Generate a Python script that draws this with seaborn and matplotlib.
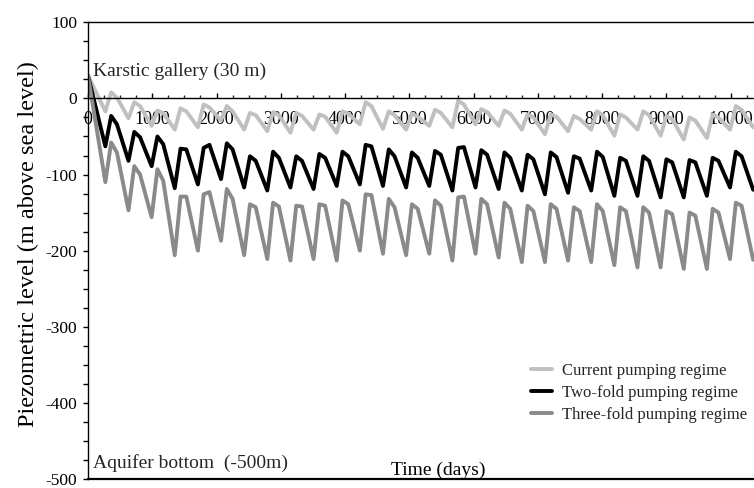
import matplotlib
matplotlib.use("Agg")
import matplotlib.pyplot as plt
import pandas as pd
import seaborn as sns
from matplotlib.ticker import MultipleLocator
from matplotlib.lines import Line2D

# ---- data ----
days = [0,
        270, 360, 450, 630, 720, 810, 990, 1080, 1170, 1350, 1440, 1530,
        1710, 1800, 1890, 2070, 2160, 2250, 2430, 2520, 2610, 2790, 2880, 2970,
        3150, 3240, 3330, 3510, 3600, 3690, 3870, 3960, 4050, 4230, 4320, 4410,
        4590, 4680, 4770, 4950, 5040, 5130, 5310, 5400, 5490, 5670, 5760, 5850,
        6030, 6120, 6210, 6390, 6480, 6570, 6750, 6840, 6930, 7110, 7200, 7290,
        7470, 7560, 7650, 7830, 7920, 8010, 8190, 8280, 8370, 8550, 8640, 8730,
        8910, 9000, 9090, 9270, 9360, 9450, 9630, 9720, 9810, 9990, 10080, 10170,
        10350]

current = [30,
           -17, 8, 1, -26, -5, -10, -36, -16, -19, -41, -13, -17,
           -38, -8, -12, -29, -10, -17, -41, -19, -22, -43, -18, -22,
           -45, -19, -23, -41, -21, -24, -45, -17, -20, -34, -5, -10,
           -40, -17, -22, -41, -20, -24, -36, -15, -19, -38, -3, -8,
           -34, -14, -18, -36, -16, -20, -41, -21, -25, -47, -21, -24,
           -43, -23, -27, -41, -17, -22, -49, -21, -25, -41, -17, -22,
           -49, -23, -27, -54, -25, -29, -52, -21, -25, -41, -10, -15,
           -38]

two_fold = [30,
            -63, -23, -34, -82, -44, -51, -89, -50, -60, -118, -66, -67,
            -113, -65, -61, -106, -59, -67, -117, -76, -82, -121, -70, -78,
            -117, -76, -82, -119, -73, -78, -115, -70, -76, -113, -61, -63,
            -115, -67, -76, -117, -71, -78, -115, -69, -74, -121, -65, -64,
            -117, -68, -74, -119, -71, -78, -121, -74, -80, -126, -71, -77,
            -124, -76, -79, -121, -70, -77, -128, -78, -82, -128, -76, -82,
            -130, -80, -84, -130, -81, -84, -128, -78, -82, -117, -70, -76,
            -120]

three_fold = [30,
              -110, -58, -71, -147, -89, -100, -156, -93, -108, -206, -129, -129,
              -200, -126, -123, -187, -119, -132, -206, -139, -143, -211, -137, -142,
              -213, -141, -142, -211, -139, -141, -213, -134, -139, -200, -126, -127,
              -204, -132, -143, -206, -139, -145, -204, -134, -141, -213, -130, -129,
              -204, -132, -139, -209, -137, -145, -215, -141, -148, -215, -139, -145,
              -213, -143, -148, -215, -139, -148, -219, -143, -148, -222, -143, -150,
              -222, -148, -152, -224, -150, -154, -224, -145, -150, -211, -137, -141,
              -212]

regimes = ["Current pumping regime", "Two-fold pumping regime", "Three-fold pumping regime"]
colors = ["#c0c0c0", "#000000", "#8a8a8a"]

df = pd.DataFrame({
    "day": days * 3,
    "level": current + two_fold + three_fold,
    "regime": [regimes[0]] * len(days) + [regimes[1]] * len(days) + [regimes[2]] * len(days),
})

# ---- style ----
sns.set_theme(style="ticks")
plt.rcParams["font.family"] = ["Liberation Serif", "DejaVu Serif"]
plt.rcParams["axes.unicode_minus"] = False

W, H = 754, 488
fig = plt.figure(figsize=(W / 100, H / 100), dpi=100)
ax = fig.add_axes([88 / W, (H - 479) / H, (W - 88) / W, (479 - 22.3) / H])

sns.lineplot(data=df, x="day", y="level", hue="regime", hue_order=regimes,
             palette=colors, linewidth=2.8, sort=False, estimator=None,
             legend=False, ax=ax)

ax.set_xlim(0, 10363)
ax.set_ylim(-500, 100)

for s in ax.spines.values():
    s.set_linewidth(1.0)
    s.set_color("black")
ax.spines["right"].set_visible(False)
ax.spines["bottom"].set_position(("data", 0))
ax.axhline(-500, color="black", lw=1.6, clip_on=False, zorder=5)

ax.xaxis.set_major_locator(MultipleLocator(1000))
ax.xaxis.set_minor_locator(MultipleLocator(250))
ax.yaxis.set_major_locator(MultipleLocator(100))
ax.yaxis.set_minor_locator(MultipleLocator(25))
ax.tick_params(axis="x", which="major", direction="in", length=3.6, width=1.0,
               labelsize=13, pad=9, colors="black")
ax.tick_params(axis="x", which="minor", direction="in", length=2.4, width=1.0)
ax.tick_params(axis="y", which="both", direction="out", length=3.4, width=1.0,
               labelsize=12.5, pad=4.3, colors="black")

ax.set_ylabel("Piezometric level (m above sea level)", fontsize=17.5, color="black")
ax.yaxis.set_label_coords(-0.09, 0.5145)
ax.yaxis.label.set_verticalalignment("center")

ax.set_xlabel("Time (days)", fontsize=14, color="black")
ax.xaxis.set_label_coords(0.5255, 0.018)
ax.xaxis.label.set_verticalalignment("center")

ax.text(78, 35.4, "Karstic gallery (30 m)", fontsize=14, ha="left", va="center")
ax.text(78, -479, "Aquifer bottom  (-500m)", fontsize=14, ha="left", va="center")

handles = [Line2D([], [], color=c, lw=2.8) for c in colors]
ax.legend(handles, regimes, loc="upper left",
          bbox_to_anchor=(531 / W, 1 - 363 / H), bbox_transform=fig.transFigure,
          frameon=False, fontsize=12, handlelength=1.25, handletextpad=0.6,
          labelspacing=0.36, borderpad=0, borderaxespad=0)

fig.savefig("out.png", dpi=100)
